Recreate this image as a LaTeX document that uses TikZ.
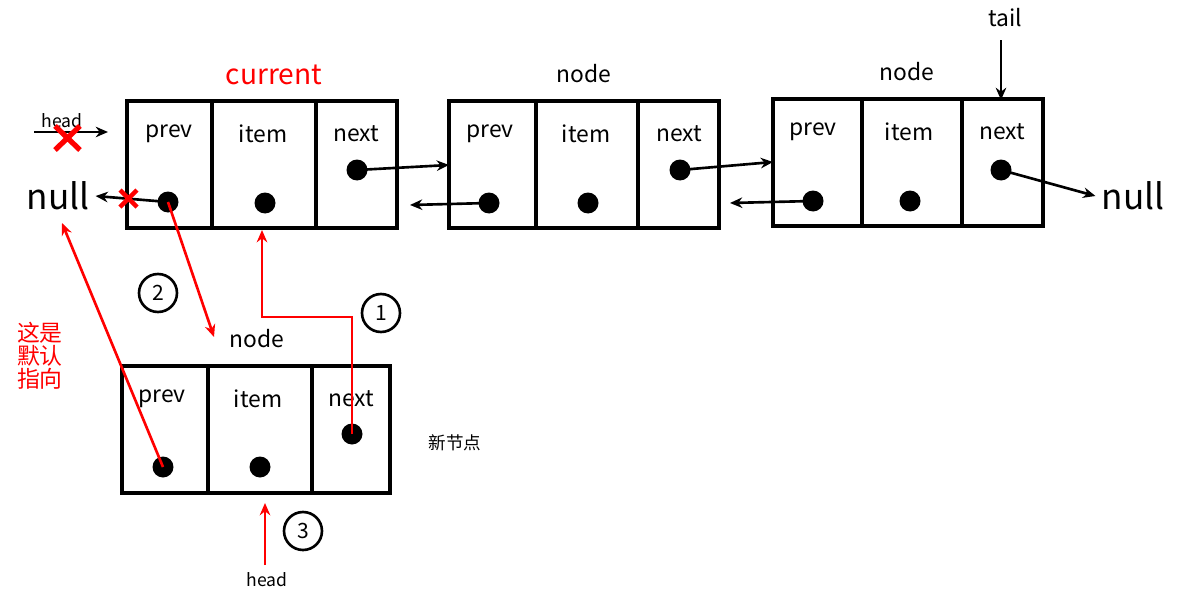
\documentclass[tikz,border=0pt]{standalone}
\usepackage{fontspec}
\setmainfont{Noto Sans CJK SC}
\usetikzlibrary{arrows.meta}
\begin{document}
\begin{tikzpicture}[x=0.02cm,y=-0.02cm,
  box/.style={line width=2.2pt},
  dot/.style={circle,fill=black,inner sep=0pt,minimum size=0.42cm},
  cell/.style={font=\fontsize{13}{15}\selectfont},
  lbl/.style={font=\fontsize{13}{15}\selectfont},
  ptr/.style={line width=1.5pt,-{Stealth[length=7pt,width=6pt]}},
  rptr/.style={line width=1.5pt,red,-{Stealth[length=7pt,width=6pt]}},
  num/.style={circle,draw,line width=1.5pt,minimum size=0.76cm,inner sep=0pt,font=\fontsize{12}{14}\selectfont},
  xmark/.style={red,line width=3pt}]
\useasboundingbox (0,0) rectangle (1190,612);
% boxes
\draw[box] (127,101) rectangle (397,228) (212,101)--(212,228) (316,101)--(316,228);
\draw[box] (449,101) rectangle (719,228) (536,101)--(536,228) (638,101)--(638,228);
\draw[box] (773,99) rectangle (1043,226) (862,99)--(862,226) (962,99)--(962,226);
\draw[box] (122,366) rectangle (390,493) (208,366)--(208,493) (312,366)--(312,493);
% cell labels
\foreach \x/\y/\t in {169/134/prev,263/134/item,356/134/next,490/134/prev,586/134/item,679/134/next,813/132/prev,909/132/item,1002/132/next,162/399/prev,258/399/item,351/399/next}
  \node[cell] at (\x,\y) {\t};
% dots
\node[dot] (p1) at (168,202) {}; \node[dot] (i1) at (265,203) {}; \node[dot] (n1) at (357,170) {};
\node[dot] (p2) at (489,203) {}; \node[dot] (i2) at (588,203) {}; \node[dot] (n2) at (680,170) {};
\node[dot] (p3) at (813,201) {}; \node[dot] (i3) at (910,201) {}; \node[dot] (n3) at (1001,170) {};
\node[dot] (pn) at (163,467) {}; \node[dot] (in) at (260,467) {}; \node[dot] (nn) at (352,434) {};
% labels
\node[font=\fontsize{20}{24}\selectfont] (nullL) at (58,196) {null};
\node[font=\fontsize{20}{24}\selectfont] (nullR) at (1133,196) {null};
\node[red,font=\fontsize{16}{18}\selectfont] at (274,75) {current};
\node[lbl] at (584,74) {node};
\node[lbl] at (907,72) {node};
\node[lbl] at (257,339) {node};
\node[lbl] at (1005,18) {tail};
\node[font=\fontsize{10}{12}\selectfont] at (455,443) {新节点};
\node[font=\fontsize{10}{12}\selectfont] at (62,121) {head};
\node[font=\fontsize{10}{12}\selectfont] (headB) at (267,580) {head};
\node[red,font=\fontsize{13}{15}\selectfont,align=left,inner sep=0pt] at (40,356) {这是\\[-2pt]默认\\[-2pt]指向};
% coordinates
\coordinate (a1) at (449,165); \coordinate (a2) at (410,205); \coordinate (a3) at (773,162);
\coordinate (a4) at (730,203); \coordinate (tailS) at (1001,40); \coordinate (tailE) at (1001,100);
\coordinate (hS) at (34,132); \coordinate (hE) at (108,132);
\coordinate (nd) at (214,337); \coordinate (itb) at (262,230); \coordinate (nullB) at (62,223);
\coordinate (hbS) at (265,565); \coordinate (hbE) at (265,503);
% black pointers
\draw[ptr] (n1.center) -- (a1);
\draw[ptr] (p2.center) -- (a2);
\draw[ptr] (n2.center) -- (a3);
\draw[ptr] (p3.center) -- (a4);
\draw[ptr] (n3.center) -- (nullR.west);
\draw[ptr] (tailS) -- (tailE);
\draw[ptr] (hS) -- (hE);
\draw[ptr] (p1.center) -- (nullL.east);
% red crosses
\draw[xmark] (55,126)--(80,150) (80,126)--(55,150);
\draw[red,line width=2.5pt] (120,190)--(137,207) (137,190)--(120,207);
% red pointers
\draw[rptr] (p1.center) -- (nd);
\draw[rptr] (nn.center) -- (352,317) -- (262,317) -- (itb);
\draw[rptr] (pn.center) -- (nullB);
\draw[rptr] (hbS) -- (hbE);
% numbers
\node[num] at (158,293) {2};
\node[num] at (381,313) {1};
\node[num] at (303,531) {3};
\end{tikzpicture}
\end{document}
